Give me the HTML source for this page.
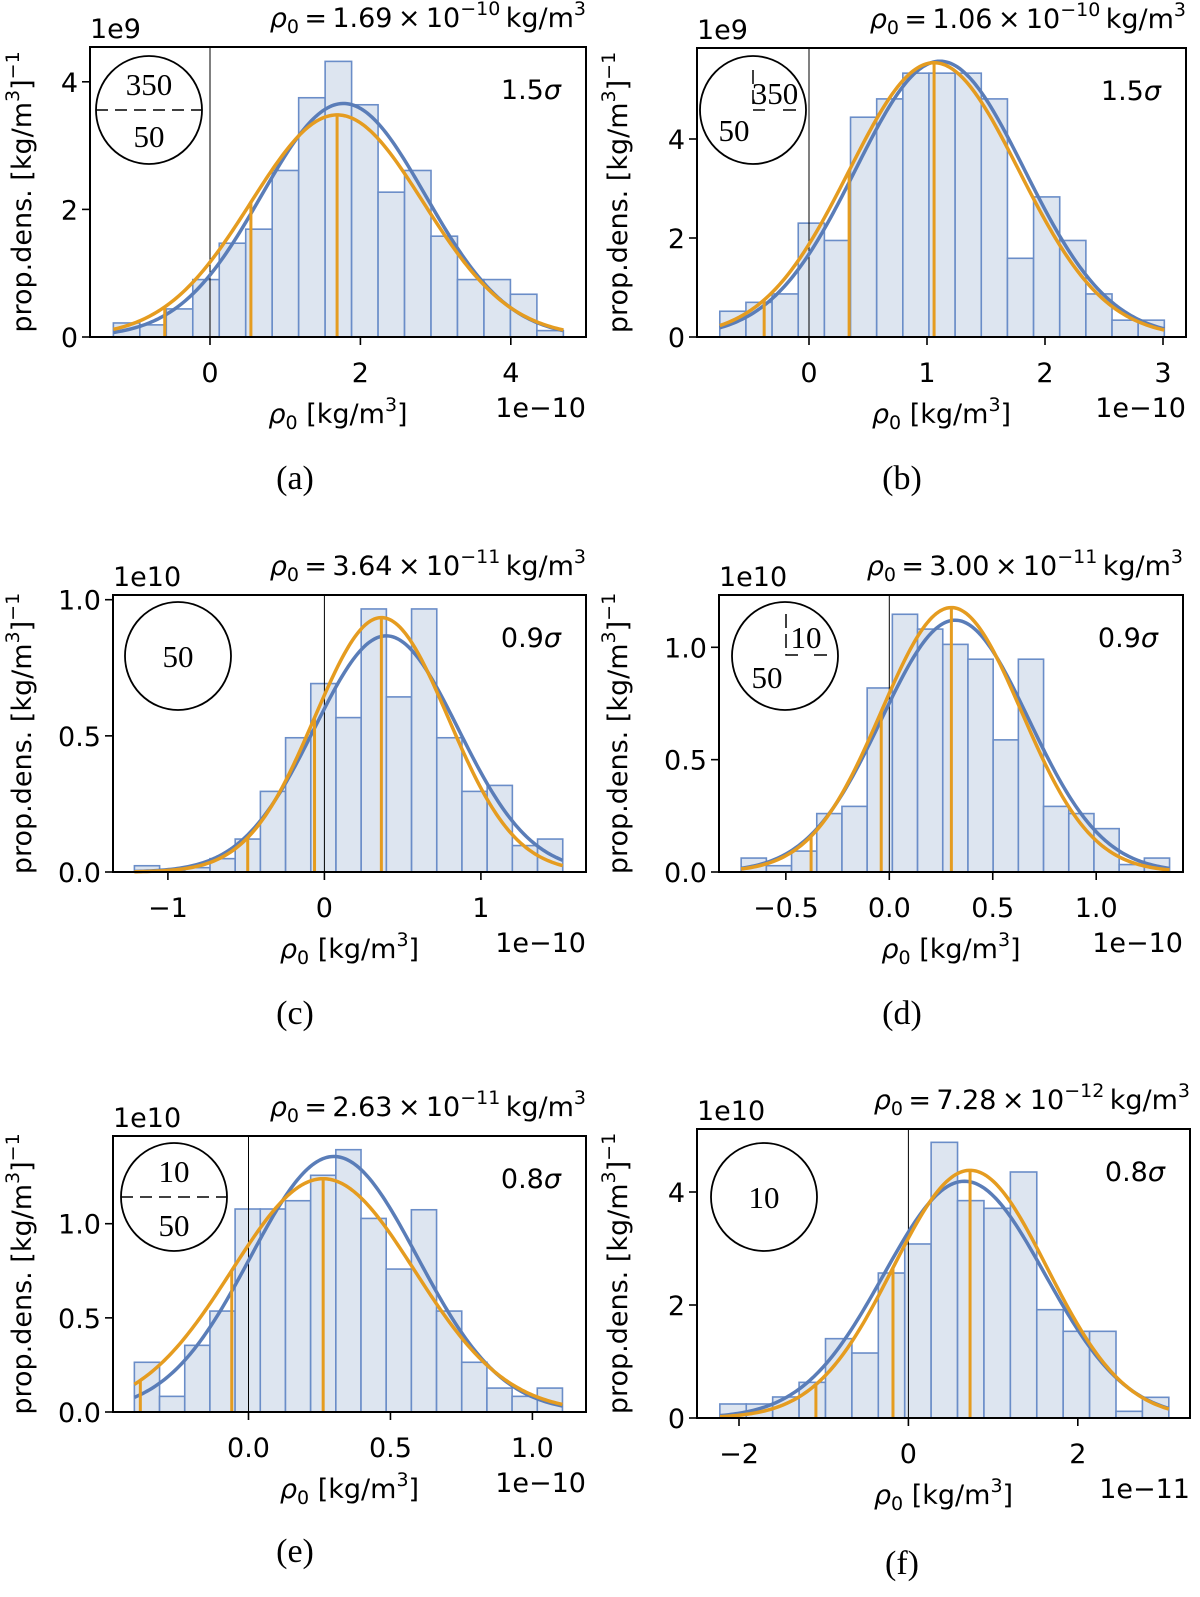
<!DOCTYPE html>
<html><head><meta charset="utf-8"><style>
html,body{margin:0;padding:0;background:#fff;}
svg{display:block;}
text{font-family:"DejaVu Sans","Liberation Sans",sans-serif;fill:#000;}
.serif{font-family:"Liberation Serif","DejaVu Serif",serif;}
</style></head><body>
<svg id="fig" width="1200" height="1597" viewBox="0 0 1200 1597" xmlns="http://www.w3.org/2000/svg"></svg>
<script>
// ---- data (bar heights in axis units; bins start/width in axis units) ----
const barsA=[0.22,0.19,0.44,0.90,1.47,1.69,2.61,3.75,4.32,3.64,2.27,2.61,1.58,0.90,0.90,0.67,0.10];
const binsA=[-1.285,0.352];
const blueFitA=[1.775,1.09]; const orangeFitA=[1.69,1.146];
const barsB=[0.52,0.70,0.87,2.30,1.95,4.44,4.81,5.33,5.33,5.33,4.81,1.59,2.83,1.95,0.87,0.34,0.34];
const binsB=[-0.756,0.2216];
const blueFitB=[1.11,0.716]; const orangeFitB=[1.06,0.72];
const barsC=[0.023,0.006,0.016,0.049,0.121,0.296,0.493,0.692,0.567,0.966,0.643,0.966,0.493,0.296,0.318,0.097,0.121];
const binsC=[-1.214,0.161];
const blueFitC=[0.395,0.46]; const orangeFitC=[0.364,0.427];
const barsD=[0.062,0.028,0.093,0.26,0.292,0.819,1.147,1.081,1.013,0.947,0.588,0.947,0.292,0.26,0.193,0.033,0.062];
const binsD=[-0.716,0.1218];
const blueFitD=[0.318,0.356]; const orangeFitD=[0.300,0.339];
const barsE=[0.264,0.083,0.354,0.536,1.078,1.078,1.122,1.257,1.393,1.028,0.759,1.074,0.536,0.264,0.127,0.083,0.127];
const binsE=[-0.402,0.0887];
const blueFitE=[0.301,0.294]; const orangeFitE=[0.263,0.322];
const barsF=[0.248,0.248,0.372,0.631,1.404,1.150,2.566,3.080,4.879,3.847,3.711,4.354,1.917,1.534,1.534,0.118,0.366];
const binsF=[-2.226,0.3118];
const blueFitF=[0.662,0.952]; const orangeFitF=[0.728,0.910];
// normalisation (integral of density in axis units)
const normA=10, normB=10, normC=1, normD=1, normE=1, normF=10;
// tick labels
const xTicksA=[0,2,4], yTicksA=[0,2,4];
const xTicksB=[0,1,2,3], yTicksB=[0,2,4];
const xTicksC=[-1,0,1], yTicksC=[0,0.5,1.0];
const xTicksD=[-0.5,0,0.5,1.0], yTicksD=[0,0.5,1.0];
const xTicksE=[0,0.5,1.0], yTicksE=[0,0.5,1.0];
const xTicksF=[-2,0,2], yTicksF=[0,2,4];
</script>
<script>
const NS="http://www.w3.org/2000/svg";
const svg=document.getElementById('fig');
function mk(tag,attrs,parent){const e=document.createElementNS(NS,tag);for(const k in attrs)e.setAttribute(k,attrs[k]);(parent||svg).appendChild(e);return e;}
const BLUE="#5a7db8", ORANGE="#e59c20", FILL="#dde5f0", EDGE="#6a8dc8";
function fmt(v,dec){return (v<0?'\u2212':'')+Math.abs(v).toFixed(dec);}
function panel(p){
  const g=mk('g',{});
  
  
  const xs=v=>p.x0+v*p.ux, ys=v=>p.B-v*p.uy;
  p.bars.forEach((h,i)=>{
    const a=p.bins[0]+i*p.bins[1], b=a+p.bins[1];
    const r=mk('rect',{x:xs(a),y:ys(h),width:xs(b)-xs(a),height:ys(0)-ys(h),fill:FILL,stroke:EDGE,'stroke-width':1.6},g);
    
    
  });
  const zl=mk('line',{x1:xs(0),x2:xs(0),y1:p.T,y2:p.B,stroke:'#000','stroke-width':1},g);
  
  
  const x1=p.bins[0], x2=p.bins[0]+p.bars.length*p.bins[1];
  const gauss=(f,x)=>p.norm/(f[1]*Math.sqrt(2*Math.PI))*Math.exp(-0.5*((x-f[0])/f[1])**2);
  function curve(f,col,name){
    let d='';for(let i=0;i<=200;i++){const x=x1+(x2-x1)*i/200;d+=(i?'L':'M')+xs(x).toFixed(2)+','+ys(gauss(f,x)).toFixed(2);}
    const c=mk('path',{d:d,fill:'none',stroke:col,'stroke-width':3.5},g);
    
    
  }
  curve(p.blue,BLUE,'blue-fit-curve');
  curve(p.orange,ORANGE,'orange-fit-curve');
  [0,1,2].forEach(k=>{
    const x=p.orange[0]-k*p.orange[1];
    const l=mk('line',{x1:xs(x),x2:xs(x),y1:ys(0),y2:ys(gauss(p.orange,x)),stroke:ORANGE,'stroke-width':3},g);
    
    
  });
  const fr=mk('rect',{x:p.L,y:p.T,width:p.R-p.L,height:p.B-p.T,fill:'none',stroke:'#000','stroke-width':2},g);
  
  
  p.xt.forEach(v=>{
    mk('line',{x1:xs(v),x2:xs(v),y1:p.B,y2:p.B+8,stroke:'#000','stroke-width':1.6},g);
    const t=mk('text',{x:xs(v),y:p.B+45,'text-anchor':'middle','font-size':27},g);
    t.textContent=fmt(v,p.xdec);
    
    
  });
  p.yt.forEach(v=>{
    mk('line',{x1:p.L-8,x2:p.L,y1:ys(v),y2:ys(v),stroke:'#000','stroke-width':1.6},g);
    const t=mk('text',{x:p.L-12,y:ys(v)+10,'text-anchor':'end','font-size':27},g);
    t.textContent=fmt(v,p.ydec);
    
    
  });
  const ym=mk('text',{x:p.L,y:p.T-9,'font-size':27},g);ym.textContent=p.ymult;
  
  const xm=mk('text',{x:p.R,y:p.B+80,'text-anchor':'end','font-size':27},g);xm.textContent=p.xmult;
  
  const ti=mk('text',{x:p.R,y:p.T-20,'text-anchor':'end','font-size':27},g);
  ti.innerHTML='<tspan font-style="italic">ρ</tspan><tspan font-size="19" dy="6">0</tspan><tspan dy="-6">\u2009=\u2009'+p.title+'\u2009×\u200910</tspan><tspan font-size="19" dy="-12">'+p.exp+'</tspan><tspan dy="12">\u2009kg/m</tspan><tspan font-size="19" dy="-12">3</tspan>';
  
  const sg=mk('text',{x:p.R-25,y:p.T+52,'text-anchor':'end','font-size':27},g);
  sg.innerHTML=p.sig+'<tspan font-style="italic">σ</tspan>';
  
  const xl=mk('text',{x:(p.L+p.R)/2,y:p.B+86,'text-anchor':'middle','font-size':27},g);
  xl.innerHTML='<tspan font-style="italic">ρ</tspan><tspan font-size="19" dy="6">0</tspan><tspan dy="-6"> [kg/m</tspan><tspan font-size="19" dy="-12">3</tspan><tspan dy="12">]</tspan>';
  
  const yc=(p.T+p.B)/2;
  const yl=mk('text',{x:0,y:0,'text-anchor':'middle','font-size':27,transform:'translate('+p.ylx+','+yc+') rotate(-90)'},g);
  yl.innerHTML='prop.dens. [kg/m<tspan font-size="19" dy="-12">3</tspan><tspan dy="12">]</tspan><tspan font-size="19" dy="-12">−1</tspan>';
  
  const c=p.circ;
  const ci=mk('ellipse',{cx:c.x,cy:c.y,rx:53,ry:54,fill:'none',stroke:'#000','stroke-width':1.8},g);
  
  c.items.forEach(it=>{
    const t=mk('text',{x:it[1],y:it[2],'text-anchor':'middle','font-size':31,'class':'serif'},g);t.textContent=it[0];
    
  });
  if(c.dash){mk('line',{x1:c.x-53,x2:c.x+53,y1:c.y,y2:c.y,stroke:'#000','stroke-width':1.5,'stroke-dasharray':'12,7'},g);}
  if(c.bracket){const b=c.bracket;
    mk('path',{d:'M'+b[0]+','+b[1]+'V'+b[2]+'H'+(b[0]+12),fill:'none',stroke:'#000','stroke-width':1.5,'stroke-dasharray':'14,6'},g);
    mk('line',{x1:b[3],x2:b[3]+13,y1:b[2],y2:b[2],stroke:'#000','stroke-width':1.5},g);}
  const cap=mk('text',{x:p.cap[0],y:p.cap[1],'text-anchor':'middle','font-size':34,'class':'serif'},g);
  cap.textContent=p.cap[2];
  
}
panel({id:'a',ylx:31,L:90,R:586,T:47,B:337,x0:210,ux:75.2,uy:63.8,bars:barsA,bins:binsA,blue:blueFitA,orange:orangeFitA,norm:normA,xt:xTicksA,yt:yTicksA,xdec:0,ydec:0,ymult:'1e9',xmult:'1e\u221210',title:'1.69',exp:'\u221210',sig:'1.5',
  circ:{x:149,y:110,dash:true,items:[['350',149,95],['50',149,147]]},cap:[295,489,'(a)']});
panel({id:'b',ylx:627,L:697,R:1186,T:48,B:337,x0:809,ux:118,uy:49.5,bars:barsB,bins:binsB,blue:blueFitB,orange:orangeFitB,norm:normB,xt:xTicksB,yt:yTicksB,xdec:0,ydec:0,ymult:'1e9',xmult:'1e\u221210',title:'1.06',exp:'\u221210',sig:'1.5',
  circ:{x:753,y:110,items:[['350',775,104],['50',734,141]],bracket:[753,70,110,783]},cap:[902,489,'(b)']});
panel({id:'c',ylx:31,L:113,R:586,T:595,B:872,x0:324.4,ux:156.5,uy:272.3,bars:barsC,bins:binsC,blue:blueFitC,orange:orangeFitC,norm:normC,xt:xTicksC,yt:yTicksC,xdec:0,ydec:1,ymult:'1e10',xmult:'1e\u221210',title:'3.64',exp:'\u221211',sig:'0.9',
  circ:{x:178,y:656,items:[['50',178,667]]},cap:[295,1024,'(c)']});
panel({id:'d',ylx:627,L:719,R:1183,T:595,B:872,x0:889.3,ux:206.9,uy:224.7,bars:barsD,bins:binsD,blue:blueFitD,orange:orangeFitD,norm:normD,xt:xTicksD,yt:yTicksD,xdec:1,ydec:1,ymult:'1e10',xmult:'1e\u221210',title:'3.00',exp:'\u221211',sig:'0.9',
  circ:{x:785,y:656,items:[['10',806,648],['50',767,688]],bracket:[786,614,655,814]},cap:[902,1024,'(d)']});
panel({id:'e',ylx:31,L:113,R:586,T:1136,B:1412,x0:248.5,ux:283.9,uy:188.3,bars:barsE,bins:binsE,blue:blueFitE,orange:orangeFitE,norm:normE,xt:xTicksE,yt:yTicksE,xdec:1,ydec:1,ymult:'1e10',xmult:'1e\u221210',title:'2.63',exp:'\u221211',sig:'0.8',
  circ:{x:174,y:1197,dash:true,items:[['10',174,1182],['50',174,1236]]},cap:[295,1562,'(e)']});
panel({id:'f',ylx:627,L:697,R:1190,T:1129,B:1418,x0:908.4,ux:84.7,uy:56.5,bars:barsF,bins:binsF,blue:blueFitF,orange:orangeFitF,norm:normF,xt:xTicksF,yt:yTicksF,xdec:0,ydec:0,ymult:'1e10',xmult:'1e\u221211',title:'7.28',exp:'\u221212',sig:'0.8',
  circ:{x:764,y:1197,items:[['10',764,1208]]},cap:[902,1574,'(f)']});
</script>
</body></html>
